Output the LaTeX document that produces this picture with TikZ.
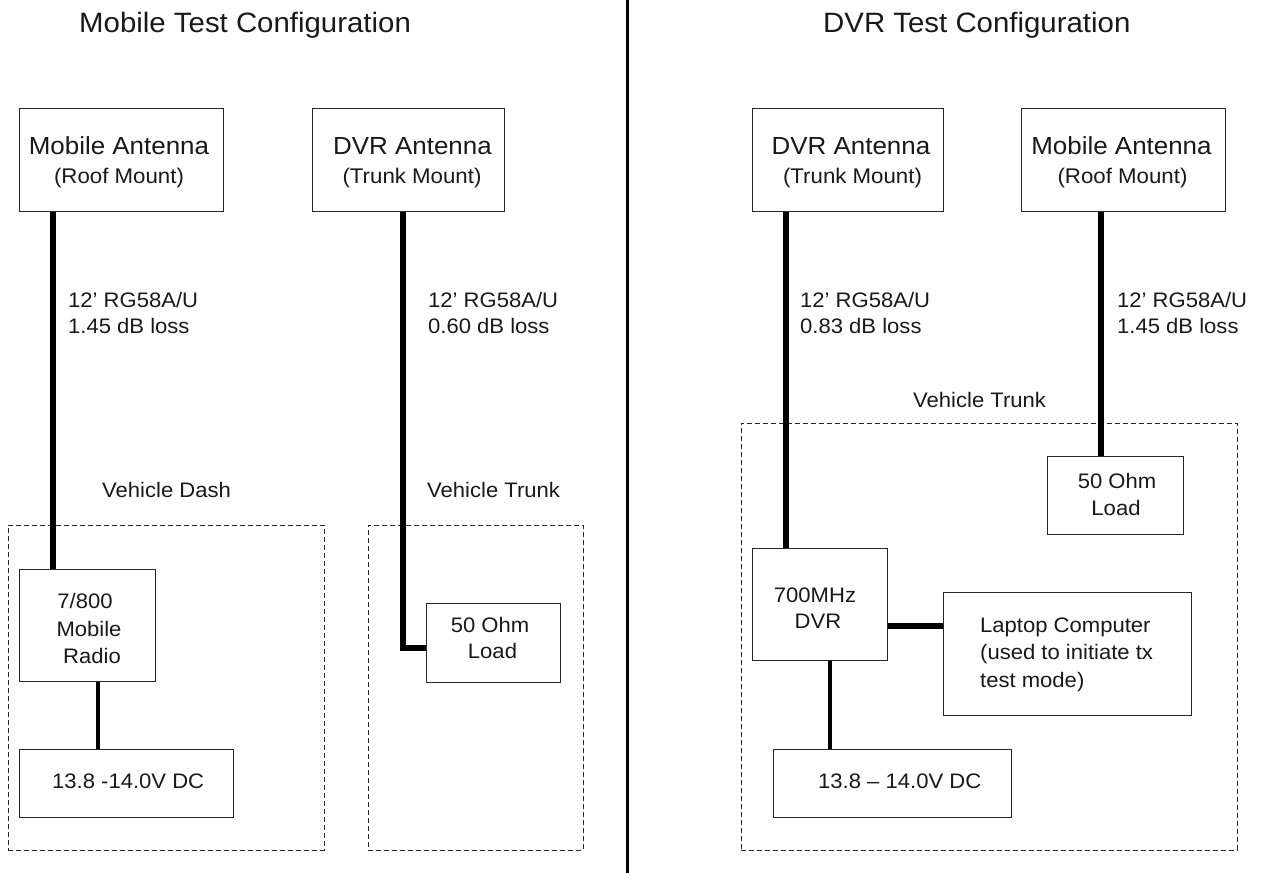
\documentclass[tikz,border=0pt]{standalone}
\usepackage{fontspec}
\setmainfont{Liberation Sans}[FakeStretch=1.05]
\begin{document}
\begin{tikzpicture}[x=1pt,y=-1pt,
  boxst/.style={draw=black!85, line width=1pt, inner sep=0pt, fill=none},
  dashbox/.style={draw=black!85, line width=1pt, dash pattern=on 5pt off 3pt, inner sep=0pt},
  txt/.style={inner sep=0pt, text=black!90, font=\fontsize{21}{21}\selectfont},
  ttl/.style={inner sep=0pt, text=black!90, font=\fontsize{28}{28}\selectfont, anchor=base west},
  aname/.style={txt, font=\fontsize{24.7}{24.7}\selectfont, anchor=base},
  asub/.style={txt, font=\fontsize{21.2}{21.2}\selectfont, anchor=base},
  lbl/.style={txt, anchor=base west},
  ctr/.style={txt, anchor=base},
  cablethick/.style={line width=6pt, black},
  cablethin/.style={line width=4pt, black}]
\useasboundingbox (0,0) rectangle (1262,873);

% divider
\coordinate (divtop) at (627,0);
\coordinate (divbot) at (627,873);
\draw[line width=3pt] (divtop) -- (divbot);

% titles
\node[ttl] (t1) at (79,32) {Mobile Test Configuration};
\node[ttl] (t2) at (823,32) {DVR Test Configuration};

% ---------------- left side ----------------
\node[dashbox, minimum width=316pt, minimum height=325pt] (dash1) at (166,687.5) {};
\node[dashbox, minimum width=215pt, minimum height=325pt] (dash2) at (475.5,687.5) {};
\node[lbl] (vd) at (102,497) {Vehicle Dash};
\node[lbl] (vt1) at (427,497) {Vehicle Trunk};

\node[boxst, fill=white, minimum width=204pt, minimum height=103pt] (mant1) at (121,159.5) {};
\node[aname] (mant1a) at (119,154) {Mobile Antenna};
\node[asub] (mant1b) at (119,183) {(Roof Mount)};

\node[boxst, fill=white, minimum width=192pt, minimum height=103pt] (dant1) at (408,159.5) {};
\node[aname] (dant1a) at (412.5,154) {DVR Antenna};
\node[asub] (dant1b) at (412,183.5) {(Trunk Mount)};

\node[boxst, fill=white, minimum width=136pt, minimum height=112pt] (radio) at (87,625) {};
\node[ctr] (radioa) at (85,608) {7/800};
\node[ctr] (radiob) at (89,636) {Mobile};
\node[ctr] (radioc) at (92,663) {Radio};

\node[boxst, fill=white, minimum width=214pt, minimum height=68pt] (dc1) at (126,783) {};
\node[lbl] (dc1a) at (52,788) {13.8 -14.0V DC};

\node[boxst, fill=white, minimum width=134pt, minimum height=79pt] (load1) at (493,642.5) {};
\node[ctr] (load1a) at (490,632) {50 Ohm};
\node[ctr] (load1b) at (492.5,658) {Load};

\node[lbl] (l1a) at (68,307) {12’ RG58A/U};
\node[lbl] (l1b) at (68,333) {1.45 dB loss};
\node[lbl] (l2a) at (428,307) {12’ RG58A/U};
\node[lbl] (l2b) at (428,333) {0.60 dB loss};

\coordinate (cx1) at (53,0);
\draw[cablethick] (cx1 |- mant1.south) -- (cx1 |- radio.north);
\coordinate (cx2) at (98,0);
\draw[cablethin] (cx2 |- radio.south) -- (cx2 |- dc1.north);
\coordinate (bend1) at (403,648);
\draw[cablethick, line join=miter] (bend1 |- dant1.south) -- (bend1) -- (bend1 -| load1.west);

% ---------------- right side ----------------
\node[dashbox, minimum width=496pt, minimum height=427pt] (dash3) at (989,636.5) {};
\node[lbl] (vt2) at (913,407) {Vehicle Trunk};

\node[boxst, fill=white, minimum width=191pt, minimum height=103pt] (dant2) at (847.5,159.5) {};
\node[aname] (dant2a) at (851,154) {DVR Antenna};
\node[asub] (dant2b) at (852.5,183.5) {(Trunk Mount)};

\node[boxst, fill=white, minimum width=204pt, minimum height=103pt] (mant2) at (1123,159.5) {};
\node[aname] (mant2a) at (1121.5,154) {Mobile Antenna};
\node[asub] (mant2b) at (1122.5,183) {(Roof Mount)};

\node[lbl] (l3a) at (800,307) {12’ RG58A/U};
\node[lbl] (l3b) at (800,333) {0.83 dB loss};
\node[lbl] (l4a) at (1117,307) {12’ RG58A/U};
\node[lbl] (l4b) at (1117,333) {1.45 dB loss};

\node[boxst, fill=white, minimum width=136pt, minimum height=78pt] (load2) at (1115,495) {};
\node[ctr] (load2a) at (1117,488) {50 Ohm};
\node[ctr] (load2b) at (1116,515) {Load};

\node[boxst, fill=white, minimum width=135pt, minimum height=112pt] (dvr) at (819.5,604) {};
\node[ctr] (dvra) at (815,602) {700MHz};
\node[ctr] (dvrb) at (818,628) {DVR};

\node[boxst, fill=white, minimum width=248pt, minimum height=123pt] (laptop) at (1067,653.5) {};
\node[lbl] (lapa) at (980,632) {Laptop Computer};
\node[lbl] (lapb) at (980,659) {(used to initiate tx};
\node[lbl] (lapc) at (980,687) {test mode)};

\node[boxst, fill=white, minimum width=238pt, minimum height=68pt] (dc2) at (892,783) {};
\node[lbl] (dc2a) at (818,788) {13.8 – 14.0V DC};

\coordinate (cx3) at (786,0);
\draw[cablethick] (cx3 |- dant2.south) -- (cx3 |- dvr.north);
\coordinate (cx4) at (1101,0);
\draw[cablethick] (cx4 |- mant2.south) -- (cx4 |- load2.north);
\coordinate (cy5) at (0,626);
\draw[cablethick] (cy5 -| dvr.east) -- (cy5 -| laptop.west);
\coordinate (cx6) at (830,0);
\draw[cablethin] (cx6 |- dvr.south) -- (cx6 |- dc2.north);
\end{tikzpicture}
\end{document}
